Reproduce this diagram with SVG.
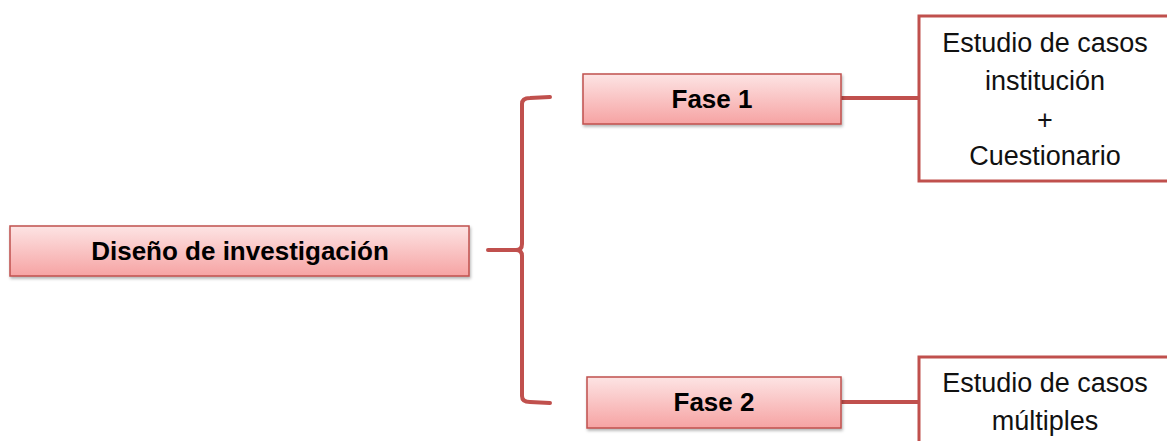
<svg xmlns="http://www.w3.org/2000/svg" width="1167" height="441" viewBox="0 0 1167 441">
<defs>
<linearGradient id="g" x1="0" y1="0" x2="0" y2="1">
<stop offset="0" stop-color="#fde4e4"/>
<stop offset="1" stop-color="#f6a3a3"/>
</linearGradient>
<filter id="sh" x="-5%" y="-20%" width="110%" height="150%">
<feDropShadow dx="1" dy="2" stdDeviation="1.5" flood-color="#000" flood-opacity="0.3"/>
</filter>
</defs>
<style>
.box{fill:url(#g);stroke:#c0504d;stroke-width:1.5;filter:url(#sh)}
.wbox{fill:#fff;stroke:#c0504d;stroke-width:3}
.bt{font-family:"Liberation Sans",Arial,sans-serif;font-weight:bold;font-size:26px;fill:#000;text-anchor:middle}
.rt{font-family:"Liberation Sans",Arial,sans-serif;font-size:27px;fill:#111;text-anchor:middle}
.c{fill:none;stroke:#c0504d;stroke-width:4;stroke-linecap:round;stroke-linejoin:round}
</style>
<g id="connectors">
<path class="c" d="M488,250 L516,250 Q522,250 522,244 L522,104 Q522,98 530,98 L550,97"/>
<path class="c" d="M516,250 Q522,250 522,256 L522,396 Q522,402 530,402 L550,403"/>
<path class="c" d="M841,98 L918,98"/>
<path class="c" d="M841,402 L918,402"/>
</g>
<g id="n-diseno">
<rect class="box" x="10" y="226" width="459" height="50"/>
<text class="bt" x="240" y="260">Diseño de investigación</text>
</g>
<g id="n-fase1">
<rect class="box" x="583" y="74" width="258" height="50"/>
<text class="bt" x="712" y="108">Fase 1</text>
</g>
<g id="n-fase2">
<rect class="box" x="587" y="377" width="254" height="51"/>
<text class="bt" x="714" y="411">Fase 2</text>
</g>
<g id="n-estudio1">
<rect class="wbox" x="919" y="16" width="260" height="165"/>
<text class="rt" x="1045" y="52">Estudio de casos</text>
<text class="rt" x="1045" y="90">institución</text>
<text class="rt" x="1045" y="129">+</text>
<text class="rt" x="1045" y="165">Cuestionario</text>
</g>
<g id="n-estudio2">
<rect class="wbox" x="919" y="357" width="260" height="100"/>
<text class="rt" x="1045" y="392">Estudio de casos</text>
<text class="rt" x="1045" y="430">múltiples</text>
</g>
</svg>
